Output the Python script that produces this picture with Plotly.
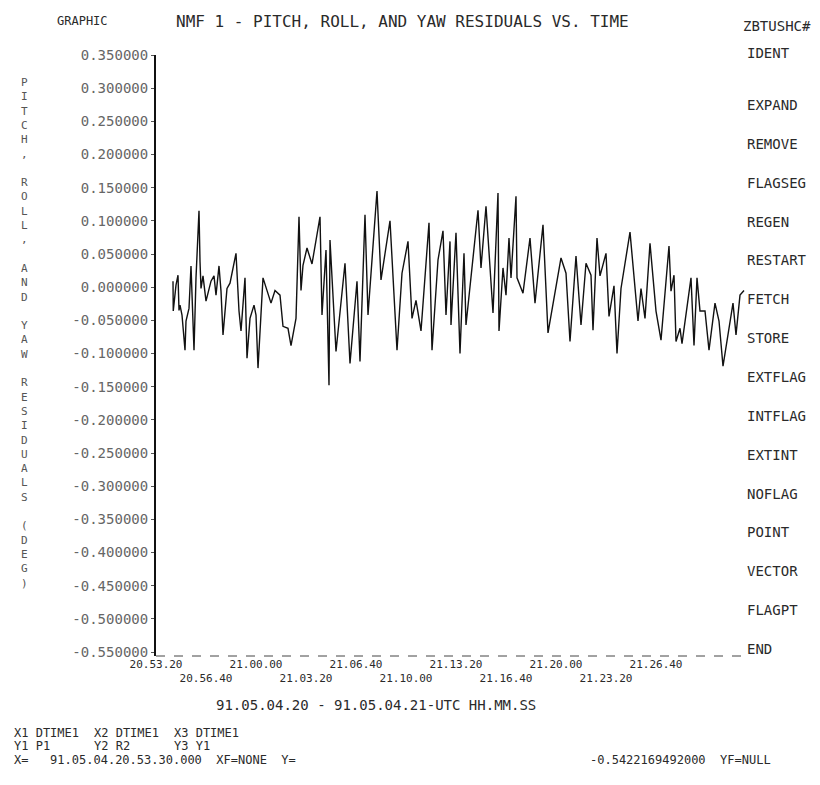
import plotly.graph_objects as go

# ---- data (seconds after 20.53.20, residual value) ----
t_sec = [68, 69, 80, 88, 92, 96, 104, 116, 120, 132, 140, 152, 160, 172, 176, 180, 188, 200,
         220, 232, 240, 252, 260, 268, 284, 296, 320, 332, 340, 356, 364, 376, 392, 400, 408,
         428, 460, 476, 496, 508, 528, 540, 560, 572, 580, 588, 604, 624, 656, 664, 680, 692,
         696, 720, 756, 776, 804, 816, 836, 848, 884, 900, 936, 964, 984, 1008, 1024, 1040,
         1060, 1092, 1104, 1128, 1148, 1160, 1176, 1180, 1200, 1216, 1232, 1240, 1288, 1300,
         1320, 1348, 1368, 1372, 1388, 1400, 1412, 1420, 1440, 1444, 1468, 1496, 1516, 1548,
         1568, 1600, 1620, 1640, 1656, 1680, 1700, 1720, 1740, 1748, 1764, 1776, 1800, 1812,
         1832, 1844, 1860, 1896, 1928, 1940, 1956, 1976, 2000, 2020, 2052, 2060, 2072, 2080,
         2096, 2104, 2140, 2152, 2164, 2176, 2196, 2212, 2236, 2252, 2268, 2308, 2320, 2336,
         2352]
resid = [0.009, -0.036, 0.003, 0.018, -0.035, -0.027, -0.042, -0.095, -0.051, -0.032, 0.032,
         -0.095, 0.014, 0.115, 0.039, -0.002, 0.017, -0.021, 0.009, 0.017, -0.012, 0.032,
         -0.006, -0.072, -0.002, 0.006, 0.051, -0.036, -0.066, 0.014, -0.107, -0.047, -0.027,
         -0.042, -0.122, 0.014, -0.024, -0.005, -0.012, -0.059, -0.062, -0.088, -0.047, 0.106,
         -0.005, 0.033, 0.059, 0.035, 0.106, -0.042, 0.056, -0.148, 0.071, -0.097, 0.036,
         -0.115, 0.009, -0.112, 0.109, -0.042, 0.145, 0.011, 0.100, -0.095, 0.021, 0.069,
         -0.047, -0.020, -0.066, 0.097, -0.095, 0.041, 0.085, -0.042, 0.069, -0.057, 0.082,
         -0.100, 0.051, -0.057, 0.116, 0.029, 0.122, -0.039, 0.142, -0.066, 0.029, -0.012,
         0.074, 0.014, 0.137, 0.014, -0.009, 0.074, -0.024, 0.094, -0.069, -0.002, 0.044,
         0.021, -0.082, 0.047, -0.057, 0.036, 0.018, -0.065, 0.074, 0.017, 0.051, -0.044,
         0.002, -0.100, -0.002, 0.083, -0.051, -0.002, -0.047, 0.066, -0.036, -0.080, 0.062,
         -0.006, 0.018, -0.082, -0.062, -0.085, 0.014, -0.088, 0.014, -0.036, -0.036, -0.095,
         -0.024, -0.051, -0.119, -0.024, -0.072, -0.012, -0.005]

x_tick_vals = [0, 200, 400, 600, 800, 1000, 1200, 1400, 1600, 1800, 2000]
x_tick_text = ["20.53.20", "<br>20.56.40", "21.00.00", "<br>21.03.20", "21.06.40",
               "<br>21.10.00", "21.13.20", "<br>21.16.40", "21.20.00", "<br>21.23.20",
               "21.26.40"]
y_tick_vals = [0.35, 0.30, 0.25, 0.20, 0.15, 0.10, 0.05, 0.0, -0.05, -0.10, -0.15, -0.20,
               -0.25, -0.30, -0.35, -0.40, -0.45, -0.50, -0.55]
y_tick_text = ["%.6f" % v if abs(v) > 1e-9 else "0.000000" for v in y_tick_vals]

menu_items = ["IDENT", "EXPAND", "REMOVE", "FLAGSEG", "REGEN", "RESTART", "FETCH", "STORE",
              "EXTFLAG", "INTFLAG", "EXTINT", "NOFLAG", "POINT", "VECTOR", "FLAGPT", "END"]
title_left = "GRAPHIC"
title_main = "NMF 1 - PITCH, ROLL, AND YAW RESIDUALS VS. TIME"
corner_code = "ZBTUSHC#"
y_label = "PITCH, ROLL, AND YAW RESIDUALS (DEG)"
time_caption = "91.05.04.20 - 91.05.04.21-UTC HH.MM.SS"
x_vars = ["X1 DTIME1", "X2 DTIME1", "X3 DTIME1"]
y_vars = ["Y1 P1", "Y2 R2", "Y3 Y1"]
cursor_x = "X=   91.05.04.20.53.30.000  XF=NONE  Y="
cursor_y = "-0.5422169492000  YF=NULL"

# ---- layout geometry ----
W, H = 820, 785
L, R, T, B = 148, 80, 47, 137
PW, PH = W - L - R, H - T - B
MONO = "DejaVu Sans Mono"
INK = "#2a2a2a"


def px_x(px):
    return (px - L) / PW


def px_y(py):
    return (H - B - py) / PH


fig = go.Figure()
fig.add_trace(go.Scatter(x=t_sec, y=resid, mode="lines",
                         line=dict(color="#111111", width=1.4), hoverinfo="skip",
                         showlegend=False))

ann = []
ann.append(dict(text=title_left, x=px_x(47), y=px_y(13), xanchor="left", yanchor="middle",
                font=dict(size=12, color=INK)))
ann.append(dict(text=title_main, x=px_x(166), y=px_y(13), xanchor="left", yanchor="middle",
                font=dict(size=16, color=INK)))
ann.append(dict(text=corner_code, x=px_x(733), y=px_y(18), xanchor="left", yanchor="middle",
                font=dict(size=14, color=INK)))
menu_y0, menu_y1 = 45, 641
gap = (menu_y1 - 97) / (len(menu_items) - 2)
for i, item in enumerate(menu_items):
    ypx = menu_y0 if i == 0 else 97 + (i - 1) * gap
    ann.append(dict(text=item, x=px_x(737), y=px_y(ypx), xanchor="left", yanchor="middle",
                    font=dict(size=14, color=INK)))
ann.append(dict(text="<br>".join(c if c != " " else "\u00a0" for c in y_label),
                x=px_x(16), y=px_y(66), xanchor="center", yanchor="top",
                font=dict(size=11, color="#555555")))
ann.append(dict(text=time_caption, x=px_x(368), y=px_y(697), xanchor="center",
                yanchor="middle", font=dict(size=14, color=INK)))
for i, (xv, yv) in enumerate(zip(x_vars, y_vars)):
    ann.append(dict(text=xv, x=px_x(4 + 80 * i), y=px_y(725), xanchor="left",
                    yanchor="middle", font=dict(size=12, color=INK)))
    ann.append(dict(text=yv, x=px_x(4 + 80 * i), y=px_y(738), xanchor="left",
                    yanchor="middle", font=dict(size=12, color=INK)))
ann.append(dict(text=cursor_x, x=px_x(4), y=px_y(752), xanchor="left", yanchor="middle",
                font=dict(size=12, color=INK)))
ann.append(dict(text=cursor_y, x=px_x(580), y=px_y(752), xanchor="left", yanchor="middle",
                font=dict(size=12, color=INK)))
for a in ann:
    a.update(xref="paper", yref="paper", showarrow=False)

fig.update_layout(
    width=W, height=H,
    margin=dict(l=L, r=R, t=T, b=B, pad=0),
    paper_bgcolor="white", plot_bgcolor="white",
    font=dict(family=MONO, color=INK),
    annotations=ann,
    shapes=[dict(type="line", xref="paper", yref="paper", x0=0.0, x1=0.99, y0=0, y1=0,
                 line=dict(color="#444444", width=1, dash="dash"))],
    xaxis=dict(range=[0, PW * 4], showgrid=False, zeroline=False, showline=False,
               tickmode="array", tickvals=x_tick_vals, ticktext=x_tick_text,
               tickangle=0, ticks="", tickfont=dict(family=MONO, size=11, color=INK)),
    yaxis=dict(range=[-0.55 - 4 / 663.3, 0.35], showgrid=False, zeroline=False,
               showline=True, linecolor="#111111", linewidth=2,
               tickmode="array", tickvals=y_tick_vals, ticktext=y_tick_text,
               ticks="outside", ticklen=3, tickcolor="#555555",
               tickfont=dict(family=MONO, size=14, color="#666666")),
)

fig.write_html("out.html")
